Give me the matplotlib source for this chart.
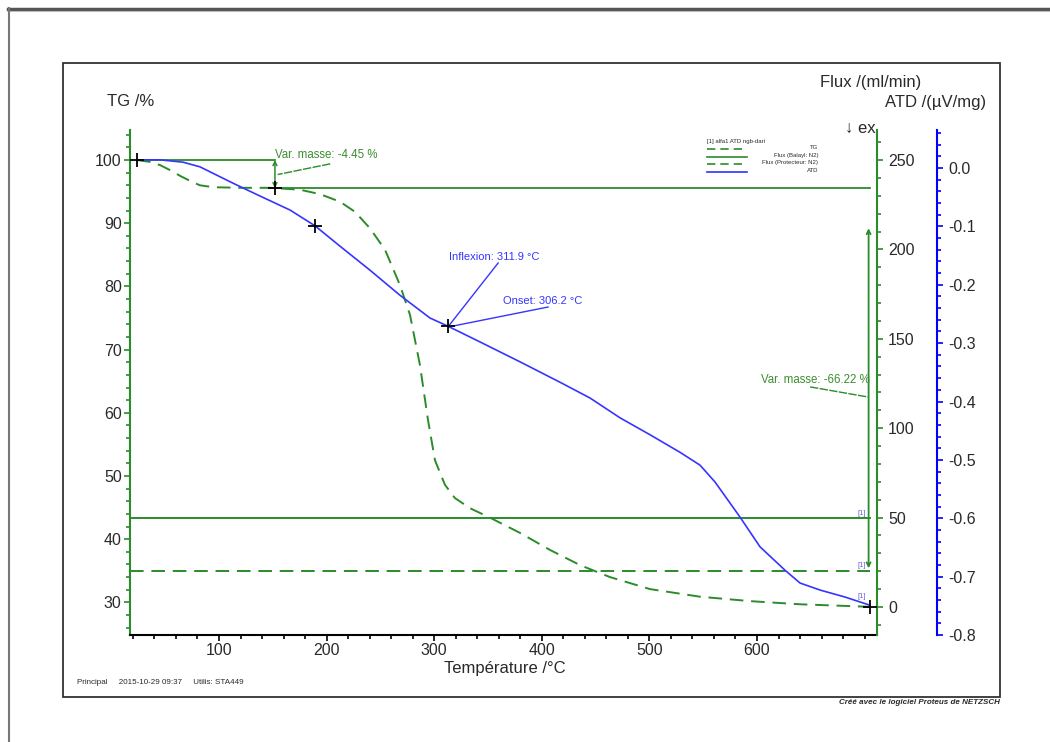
import matplotlib.pyplot as plt
from matplotlib.lines import Line2D
from matplotlib.patches import Rectangle
from matplotlib.ticker import MultipleLocator, FormatStrFormatter

plt.rcParams["font.family"] = ["Liberation Sans", "DejaVu Sans"]
plt.rcParams["axes.unicode_minus"] = False

# TG curve: temperature (°C) / mass (%)
tg_temp = [23.8, 35.9, 45.2, 54.5, 63.8, 73.0, 82.3, 94.4, 119.5, 147.4,
           175.3, 193.9, 212.5, 226.4, 240.3, 254.3, 268.2, 277.5, 286.7,
           294.2, 300.7, 310.0, 319.3, 333.3, 351.9, 379.7, 407.6, 435.5,
           463.4, 500.6, 547.0, 593.5, 640.0, 705.0]
tg_mass = [100.0, 99.7, 99.2, 98.4, 97.5, 96.7, 96.0, 95.7, 95.6, 95.6,
           95.3, 94.6, 93.4, 91.8, 89.2, 85.8, 80.2, 75.5, 67.6,
           58.9, 52.5, 48.6, 46.5, 44.9, 43.4, 41.0, 38.3, 35.9,
           34.0, 32.1, 30.9, 30.2, 29.7, 29.3]

# ATD curve: temperature (°C) / signal (µV/mg)
atd_temp = [23.8, 45.2, 66.5, 82.3, 113.0, 138.1, 166.0, 189.2, 212.5,
            240.3, 268.2, 296.1, 312.8, 342.6, 379.7, 416.9, 444.8, 472.7,
            500.6, 528.4, 547.0, 561.0, 584.2, 602.8, 626.0, 640.0, 658.6,
            681.8, 705.0]
atd_signal = [0.014, 0.014, 0.010, 0.002, -0.026, -0.048, -0.072, -0.099,
              -0.134, -0.175, -0.218, -0.257, -0.271, -0.298, -0.332,
              -0.367, -0.394, -0.428, -0.457, -0.487, -0.509, -0.538,
              -0.598, -0.649, -0.689, -0.711, -0.723, -0.735, -0.749]

# gas flows (ml/min)
flux_temp = [17.3, 705.0]
flux_balayage = [50, 50]
flux_protecteur = [20, 20]

# evaluation marks (temperature, TG)
mark_temp = [23.8, 152.0, 189.2, 312.8, 705.0]
mark_tg = [100.0, 95.54, 89.56, 73.7, 29.3]

# mass steps
step1_temp = [23.8, 152.0, 705.0]
step1_levels = [100.0, 95.54]
step2_temp = 703.7
step2_span = [89.2, 35.4]

GREEN = "#2a8c2a"
BLUE = "#3535ff"
TXT = "#2a2a2a"
W, H = 1050, 742


def fpos(x, y):
    return x / W, 1 - y / H


fig = plt.figure(figsize=(10.5, 7.42), dpi=100)

# page border and frame
fig.add_artist(Line2D([8 / W, 1], [1 - 8.5 / H] * 2, color="#555555", lw=2.5))
fig.add_artist(Line2D([8 / W, 1], [1 - 11 / H] * 2, color="#bbbbbb", lw=0.8))
fig.add_artist(Line2D([9 / W] * 2, [0, 1 - 8 / H], color="#777777", lw=1.5))
fig.add_artist(Rectangle(fpos(63, 697), 937 / W, 634 / H, fill=False,
                         ec="#333333", lw=1.3, transform=fig.transFigure))

ax = fig.add_axes([130 / W, 1 - 635 / H, 747 / W, 505 / H])
ax.patch.set_alpha(0)
ax_flux = ax.twinx()
ax_atd = ax.twinx()

ax.set_xlim(17.3, 711.5)
ax.set_ylim(24.84, 104.75)
ax_flux.set_ylim(-15.66, 266.8)

# curves
ax.plot(tg_temp, tg_mass, color=GREEN, lw=1.4, ls=(0, (7, 4)))
ax_flux.plot(flux_temp, flux_balayage, color=GREEN, lw=1.4)
ax_flux.plot(flux_temp, flux_protecteur, color=GREEN, lw=1.4, ls=(0, (7, 4)))
ax_atd.plot(atd_temp, atd_signal, color=BLUE, lw=1.2)

# mass step lines
ax.plot([step1_temp[0], step1_temp[1]], [step1_levels[0]] * 2, color=GREEN, lw=1.3)
ax.plot([step1_temp[1], step1_temp[2]], [step1_levels[1]] * 2, color=GREEN, lw=1.3)
ax.annotate("", xy=(step1_temp[1], step1_levels[1]), xytext=(step1_temp[1], step1_levels[0]),
            arrowprops=dict(arrowstyle="<->", color=GREEN, lw=1.1, mutation_scale=7,
                            shrinkA=0, shrinkB=0))
ax.annotate("", xy=(step2_temp, step2_span[1]), xytext=(step2_temp, step2_span[0]),
            arrowprops=dict(arrowstyle="<->", color=GREEN, lw=1.3, mutation_scale=7,
                            shrinkA=0, shrinkB=0))

# annotation texts
ax.text(152, 100.8, "Var. masse: -4.45 %", color="#3c8c30", fontsize=8.3,
        ha="left", va="center")
ax.plot([203.4, 154.5], [99.4, 97.7], color=GREEN, lw=1.0, ls=(0, (6, 1)))
ax.text(705, 65.2, "Var. masse: -66.22 %", color="#3c8c30", fontsize=8.3,
        ha="right", va="center")
ax.plot([649.3, 703.2], [64.1, 62.5], color=GREEN, lw=1.0, ls=(0, (6, 1)))

ax_atd.text(313.8, 84.65, "Inflexion: 311.9 °C", color=BLUE, fontsize=8,
            ha="left", va="center", transform=ax.transData)
ax_atd.plot([359.4, 312.8], [83.7, 73.6], color=BLUE, lw=1.0, transform=ax.transData)
ax_atd.text(364.0, 77.74, "Onset: 306.2 °C", color=BLUE, fontsize=8,
            ha="left", va="center", transform=ax.transData)
ax_atd.plot([405.8, 317.5], [76.74, 73.73], color=BLUE, lw=1.0, transform=ax.transData)

for yv in [44.1, 35.8, 30.9]:
    ax_atd.text(697.6, yv, "[1]", color="#6a5fe0", fontsize=5.5, ha="center",
                va="center", transform=ax.transData)

ax_atd.plot(mark_temp, mark_tg, ls="none", marker="+", ms=10, mew=1.3,
            color="black", transform=ax.transData, clip_on=False)

# spines and ticks
for a in (ax, ax_flux, ax_atd):
    a.spines["top"].set_visible(False)
for a in (ax_flux, ax_atd):
    a.spines["left"].set_visible(False)
    a.spines["bottom"].set_visible(False)
ax.spines["right"].set_visible(False)
ax.spines["left"].set_color(GREEN)
ax.spines["left"].set_linewidth(1.5)
ax.spines["bottom"].set_color("black")
ax.spines["bottom"].set_linewidth(1.5)
ax_flux.spines["right"].set_color(GREEN)
ax_flux.spines["right"].set_linewidth(1.5)
ax_atd.spines["right"].set_position(("axes", 807 / 747))
ax_atd.spines["right"].set_color("#0000ff")
ax_atd.spines["right"].set_linewidth(1.5)

ax.set_xticks([100, 200, 300, 400, 500, 600])
ax.xaxis.set_minor_locator(MultipleLocator(20))
ax.yaxis.set_major_locator(MultipleLocator(10))
ax.yaxis.set_minor_locator(MultipleLocator(2))
ax_flux.yaxis.set_major_locator(MultipleLocator(50))
ax_flux.yaxis.set_minor_locator(MultipleLocator(10))
ax_atd.set_yticks([0.0, -0.1, -0.2, -0.3, -0.4, -0.5, -0.6, -0.7, -0.8])
ax_atd.yaxis.set_minor_locator(MultipleLocator(0.02))
ax_atd.yaxis.set_major_formatter(FormatStrFormatter("%.1f"))
ax_atd.set_ylim(-0.8, 0.0651)

ax.tick_params(axis="x", which="both", direction="out", color="black",
               labelcolor=TXT, labelsize=11.5, pad=2)
ax.tick_params(axis="x", which="major", length=4, width=1.2)
ax.tick_params(axis="x", which="minor", length=3, width=1.2)
ax.tick_params(axis="y", which="both", direction="out", color=GREEN,
               labelcolor=TXT, labelsize=11.5, width=1.2, pad=2)
ax.tick_params(axis="y", which="major", length=4)
ax.tick_params(axis="y", which="minor", length=3)
ax_flux.tick_params(axis="y", which="both", direction="out", color=GREEN,
                    labelcolor=TXT, labelsize=11.5, width=1.2, pad=4)
ax_flux.tick_params(axis="y", which="major", length=4)
ax_flux.tick_params(axis="y", which="minor", length=3)
ax_atd.tick_params(axis="y", which="both", direction="out", color="#0000ff",
                   labelcolor=TXT, labelsize=11.5, width=1.2, pad=4)
ax_atd.tick_params(axis="y", which="major", length=4)
ax_atd.tick_params(axis="y", which="minor", length=3)

# axis titles
fig.text(*fpos(107, 101), "TG /%", fontsize=12, color=TXT, ha="left", va="center")
fig.text(*fpos(820, 82), "Flux /(ml/min)", fontsize=12, color=TXT, ha="left", va="center")
fig.text(*fpos(885, 102), "ATD /(µV/mg)", fontsize=12, color=TXT, ha="left", va="center")
fig.text(*fpos(505, 669), "Température /°C", fontsize=12, color=TXT, ha="center", va="center")
exo = fig.text(*fpos(845, 128), "↓ exo", fontsize=12, color=TXT, ha="left", va="center")
exo.set_clip_path(Rectangle((0, 0), 876 / W, 1, transform=fig.transFigure))

# legend
fig.text(*fpos(707, 141), "[1] alfa1 ATD ngb-dari", fontsize=4.3, color=TXT,
         ha="left", va="center")
legend_rows = [("TG", GREEN, (0, (5, 3)), 149),
               ("Flux (Balayl: N2)", GREEN, "-", 156.7),
               ("Flux (Protecteur: N2)", GREEN, (0, (5, 3)), 164.3),
               ("ATD", "#3030ff", "-", 172)]
for label, col, style, yy in legend_rows:
    x0, y0 = fpos(707, yy)
    x1, _ = fpos(747, yy)
    fig.add_artist(Line2D([x0, x1], [y0, y0], color=col, lw=1.2, ls=style))
    fig.text(*fpos(818, yy - 1.5), label, fontsize=4.3, color=TXT, ha="right", va="center")

# footer
fig.text(*fpos(77, 683), "Principal     2015-10-29 09:37     Utilis: STA449",
         fontsize=5.8, color=TXT, ha="left", va="center")
fig.text(*fpos(1000, 702), "Créé avec le logiciel Proteus de NETZSCH", fontsize=5.8,
         color=TXT, ha="right", va="center", fontweight="bold", fontstyle="italic")

fig.savefig("out.png", dpi=100)
